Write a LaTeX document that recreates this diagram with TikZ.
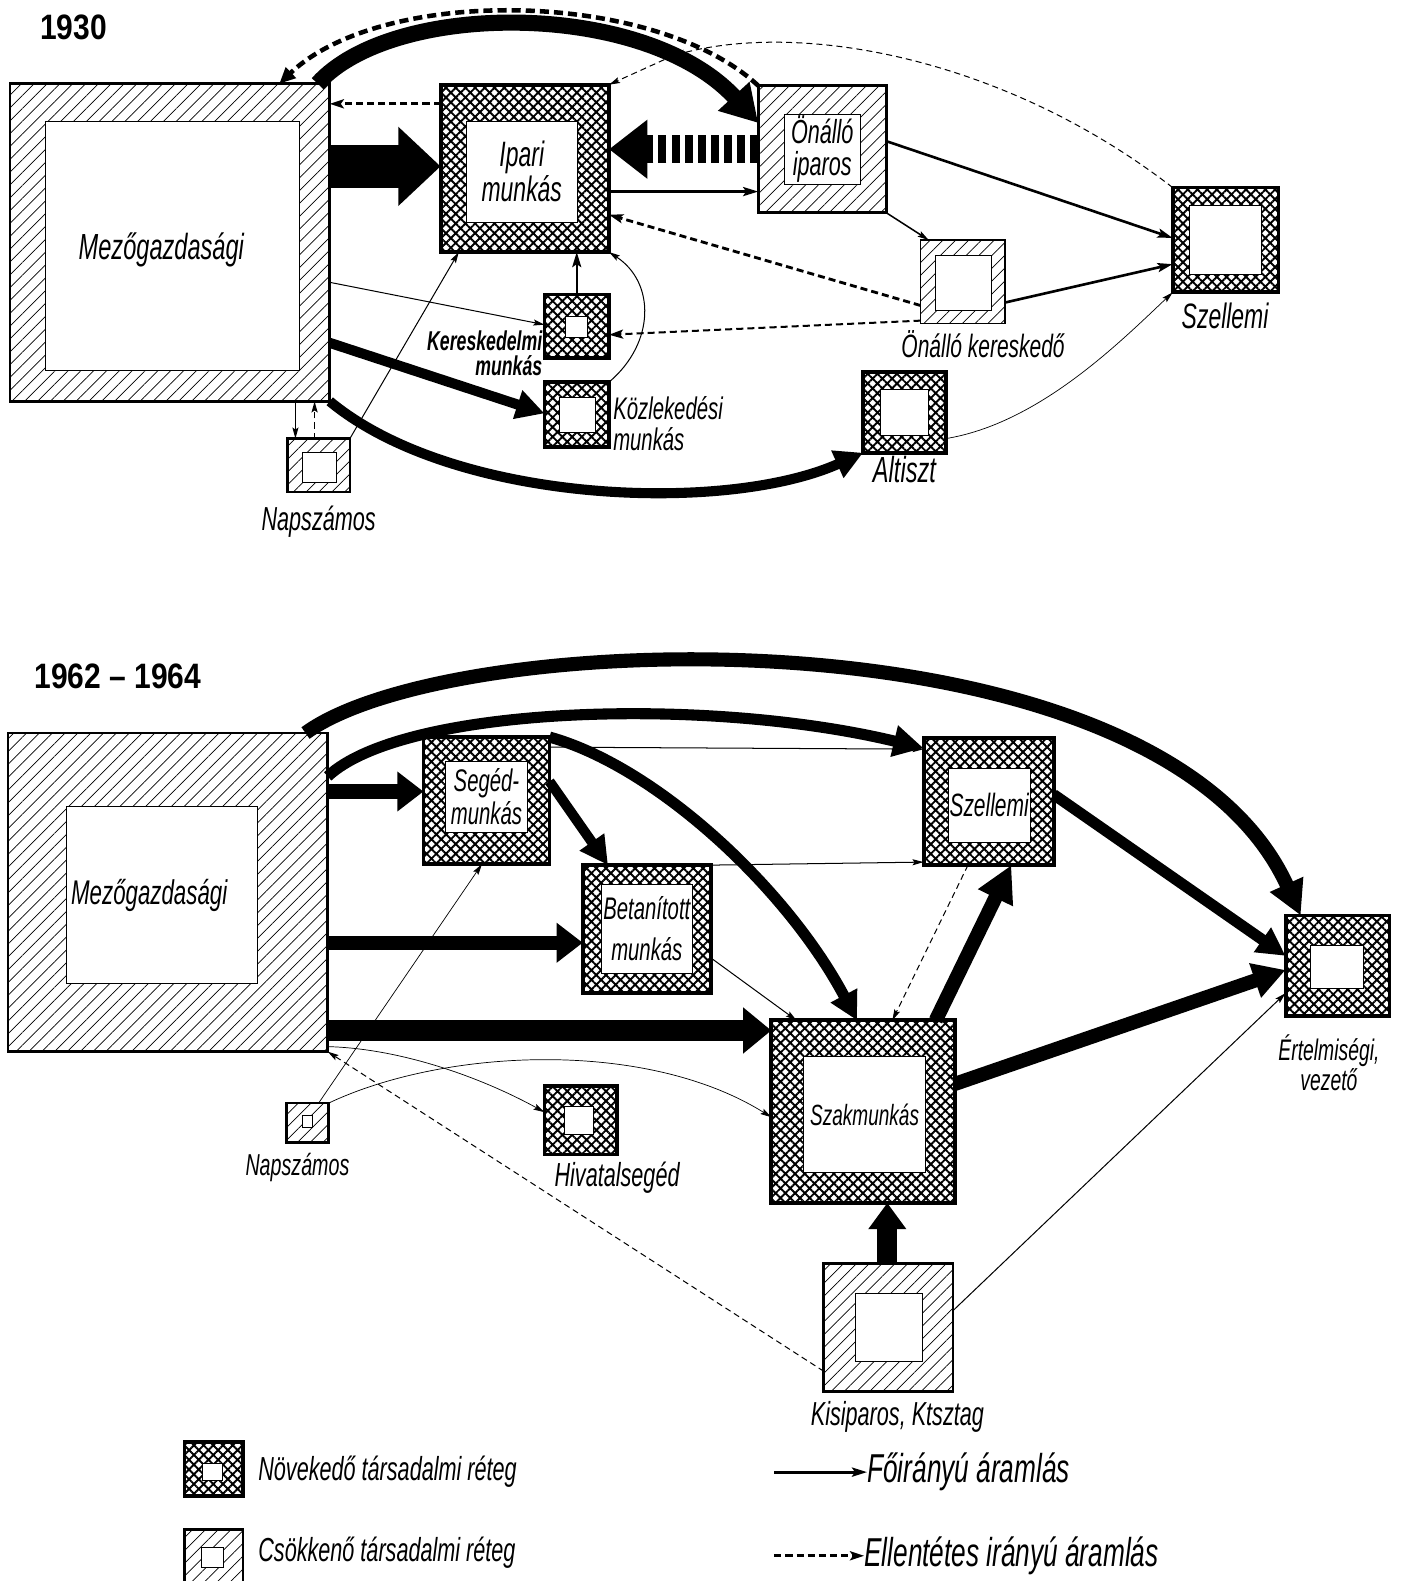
\documentclass[tikz,border=0pt]{standalone}
\usepackage{fontspec}
\newfontfamily\labfont[FakeStretch=0.65]{Liberation Sans}
\newfontfamily\yearfont[FakeStretch=0.85]{Liberation Sans}
\usetikzlibrary{arrows.meta,patterns.meta,calc}
\newcommand\lf[2]{\labfont\itshape\fontsize{#1}{#2}\selectfont}
\newcommand\obox[6]{\node[#1, minimum width={(#5-#3)*1pt}, minimum height={(#6-#4)*1pt}] (#2) at ({(#3+#5)/2},{(#4+#6)/2}) {};}
\newcommand\ibox[7][]{\node[inbox,#1, minimum width={(#5-#3)*1pt}, minimum height={(#6-#4)*1pt}] (#2) at ({(#3+#5)/2},{(#4+#6)/2}) {#7};}
\tikzset{
 growbox/.style={draw, line width=3.8pt, pattern={Hatch[angle=45,distance=6.8pt,line width=1.9pt]}, inner sep=0pt, outer sep=0pt},
 shrinkbox/.style={draw, line width=2.6pt, pattern={Lines[angle=45,distance=9pt,line width=0.7pt]}, inner sep=0pt, outer sep=0pt},
 shrinklight/.style={shrinkbox, line width=1.6pt},
 inbox/.style={draw, line width=0.6pt, fill=white, inner sep=0pt, outer sep=0pt, align=center, font=\lf{33}{32}},
 lbl/.style={inner sep=0pt, align=center, font=\lf{33}{32}},
 yearlbl/.style={inner sep=0pt, font=\yearfont\bfseries\fontsize{35}{38}\selectfont},
 tarr/.style={line width=1pt, -{Stealth[length=11pt,width=6pt,inset=2pt]}},
 marr/.style={line width=2.6pt, -{Stealth[length=15pt,width=9pt,inset=3pt]}},
 tdarr/.style={line width=1pt, dash pattern=on 6pt off 4pt, -{Stealth[length=11pt,width=6pt,inset=2pt]}},
 mdarr/.style={line width=2.8pt, dash pattern=on 7pt off 4pt, -{Stealth[length=14pt,width=9pt,inset=3pt]}},
 karr/.style={line width=#1, -{Triangle[length=28pt,width=28pt]}},
 karr/.default=10pt
}
\begin{document}
\begin{tikzpicture}[x=1pt,y={(0,-1pt)}]
\fill[white] (0,0) rectangle (1404,1568);
\useasboundingbox (0,0) rectangle (1404,1568);

% ---------------- 1930 ----------------
\node[yearlbl] (y1930) at (73,27) {1930};
\obox{shrinkbox}{mezoA}{10}{83}{327}{398}
\ibox{mezoAi}{45}{120}{297}{367}{}
\node[lbl, font=\lf{36}{36}] (mezoAt) at (160,248) {Mezőgazdasági};
\obox{growbox}{ipariA}{437}{84}{604}{250}
\ibox[font=\lf{35}{31}]{ipariAi}{462}{120}{573}{220}{Ipari\\munkás}
\obox{shrinkbox}{onipA}{752}{85}{879}{211}
\ibox[font=\lf{33}{32}]{onipAi}{778}{113}{853}{183}{Önálló\\iparos}
\obox{growbox}{szelA}{1163}{186}{1268}{290}
\ibox{szelAi}{1180}{204}{1251}{272}{}
\node[lbl, font=\lf{35}{36}] (szelAl) at (1215,313) {Szellemi};
\obox{shrinklight}{onkerA}{913}{238}{997}{321}
\ibox{onkerAi}{928}{253}{983}{308}{}
\node[lbl, font=\lf{32}{32}] (onkerAl) at (975,341) {Önálló kereskedő};
\obox{growbox}{kerA}{540}{292}{604}{355}
\ibox{kerAi}{561}{314}{582}{335}{}
\node[lbl, align=right, anchor=east, font=\labfont\bfseries\itshape\fontsize{27}{25}\selectfont] (kerAl) at (538,350) {Kereskedelmi\\munkás};
\obox{growbox}{kozA}{540}{379}{604}{443}
\ibox{kozAi}{555}{394}{590}{429}{}
\node[lbl, align=left, anchor=west, font=\lf{31}{31}] (kozAl) at (608,420) {Közlekedési\\munkás};
\obox{growbox}{altA}{856}{369}{938}{449}
\ibox{altAi}{873}{386}{921}{432}{}
\node[lbl, font=\lf{36}{36}] (altAl) at (897,466) {Altiszt};
\obox{shrinkbox}{napA}{285}{435}{347}{488}
\ibox{napAi}{300}{449}{334}{478}{}
\node[lbl] (napAl) at (316,517) {Napszámos};

% connectors 1930
\draw[line width=42pt, -{Triangle[length=42pt,width=76pt]}] (mezoA.east |- 0,165) -- (ipariA.west |- 0,165);
\draw[mdarr] (ipariA.west |- 0,103) -- (mezoA.east |- 0,103);
\draw[line width=28pt, dash pattern=on 8pt off 5pt, -{Triangle[length=38pt,width=56pt]}] (onipA.west |- 0,148) -- (ipariA.east |- 0,148);
\draw[marr] (ipariA.east |- 0,190) -- (onipA.west |- 0,190);
\draw[line width=16pt, -{Triangle[length=36pt,width=40pt]}] ($(mezoA.north east)+(-12,0)$) .. controls (390,0) and (640,0) .. (onipA.west |- 0,122);
\draw[line width=4.5pt, dash pattern=on 9pt off 5pt, -{Triangle[length=16pt,width=14pt]}] (onipA.north west) .. controls (650,-10) and (380,-15) .. (mezoA.north -| 277,0);
\coordinate (jn) at (668,55);
\draw[tdarr] (szelA.north west) .. controls (1000,60) and (800,20) .. (jn);
\draw[tdarr] (jn) -- (ipariA.north east);
\draw[tarr] (mezoA.east |- 0,280) -- (kerA.west |- 0,322);
\draw[karr] (mezoA.east |- 0,340) -- (kozA.west |- 0,410);
\draw[karr] (mezoA.south east) .. controls (450,500) and (720,510) .. (altA.south west);
\draw[tarr] (napA.north east) -- (ipariA.south -| 455,0);
\draw[tarr] (mezoA.south -| 293,0) -- (napA.north -| 293,0);
\draw[tdarr, line width=1.6pt] (napA.north -| 312,0) -- (mezoA.south -| 312,0);
\draw[marr, line width=2pt] (kerA.north) -- (ipariA.south -| kerA.north);
\draw[tarr] (kozA.north east) .. controls (650,340) and (650,280) .. (ipariA.south east);
\draw[mdarr] (onkerA.west |- 0,303) -- (ipariA.east |- 0,213);
\draw[mdarr, line width=2pt] (onkerA.west |- 0,318) -- (kerA.east |- 0,332);
\draw[marr] (onipA.east |- 0,140) -- (szelA.west |- 0,236);
\draw[tarr, line width=1.5pt] (onipA.south east) -- ($(onkerA.north west)+(8,0)$);
\draw[marr] (onkerA.east |- 0,300) -- (szelA.west |- 0,262);
\draw[tarr, line width=0.7pt] (altA.east |- 0,435) .. controls (1030,420) and (1110,340) .. (szelA.south west);

% ---------------- 1962-1964 ----------------
\node[yearlbl] (y1962) at (117,671) {1962 – 1964};
\obox{shrinkbox}{mezoB}{8}{727}{325}{1043}
\ibox{mezoBi}{66}{800}{255}{975}{}
\node[lbl, font=\lf{34}{34}] (mezoBt) at (148,888) {Mezőgazdasági};
\obox{growbox}{segB}{420}{731}{545}{857}
\ibox[font=\lf{31}{33}]{segBi}{442}{755}{523}{825}{Segéd-\\munkás}
\obox{growbox}{betB}{578}{858}{705}{985}
\ibox[font=\lf{31}{40}]{betBi}{596}{877}{687}{965}{Betanított\\munkás}
\obox{growbox}{szelB}{916}{732}{1045}{858}
\ibox[font=\lf{32}{32}]{szelBi}{940}{762}{1022}{835}{Szellemi}
\obox{growbox}{szakB}{765}{1012}{947}{1193}
\ibox[font=\lf{29}{30}]{szakBi}{797}{1048}{918}{1163}{Szakmunkás}
\obox{growbox}{ertB}{1275}{908}{1378}{1008}
\ibox{ertBi}{1300}{938}{1352}{980}{}
\node[lbl, font=\lf{29.5}{26}] (ertBl) at (1318,1054) {Értelmiségi,\\vezető};
\obox{shrinkbox}{napB}{284}{1094}{326}{1133}
\ibox{napBi}{300}{1106}{310}{1118}{}
\node[lbl, font=\lf{30}{30}] (napBl) at (295,1158) {Napszámos};
\obox{growbox}{hivB}{540}{1077}{612}{1145}
\ibox{hivBi}{560}{1097}{588}{1125}{}
\node[lbl] (hivBl) at (612,1168) {Hivatalsegéd};
\obox{shrinkbox}{kisB}{817}{1253}{945}{1380}
\ibox{kisBi}{848}{1283}{915}{1350}{}
\node[lbl] (kisBl) at (890,1405) {Kisiparos, Ktsztag};

% connectors 1962
\draw[line width=14pt, -{Triangle[length=34pt,width=34pt]}] ($(mezoB.north east)+(-22,0)$) .. controls (450,620) and (1150,600) .. (ertB.north -| 1290,0);
\draw[line width=11pt, -{Triangle[length=30pt,width=30pt]}] (mezoB.east |- 0,770) .. controls (400,700) and (700,690) .. (szelB.west |- 0,742);
\draw[line width=14pt, -{Triangle[length=26pt,width=38pt]}] (mezoB.east |- 0,785) -- (segB.west |- 0,785);
\draw[line width=14pt, -{Triangle[length=26pt,width=38pt]}] (mezoB.east |- 0,935) -- (betB.west |- 0,935);
\draw[line width=20pt, -{Triangle[length=28pt,width=44pt]}] (mezoB.east |- 0,1022) -- (szakB.west |- 0,1022);
\draw[tarr] (segB.east |- 0,741) -- (szelB.west |- 0,743);
\draw[karr] (segB.east |- 0,775) -- (betB.north -| 603,0);
\draw[karr=11pt] (segB.north east) .. controls (650,760) and (780,880) .. (szakB.north -| 850,0);
\draw[tarr] (betB.north east) -- (szelB.west |- 0,855);
\draw[tarr] (betB.east |- 0,950) -- (szakB.north -| 790,0);
\draw[line width=14pt, -{Triangle[length=36pt,width=36pt]}] (szakB.north -| 928,0) -- (szelB.south -| 1003,0);
\draw[tdarr] (szelB.south -| 960,0) -- (szakB.north -| 885,0);
\draw[karr=11pt] (szelB.east |- 0,788) -- (ertB.west |- 0,948);
\draw[line width=14pt, -{Triangle[length=32pt,width=34pt]}] (szakB.east |- 0,1075) -- (ertB.west |- 0,962);
\draw[tarr] (kisB.east |- 0,1300) -- (ertB.west |- 0,985);
\draw[line width=20pt, -{Triangle[length=26pt,width=36pt]}] (kisB.north -| 880,0) -- (szakB.south -| 880,0);
\draw[tdarr] (kisB.west |- 0,1360) -- (mezoB.south east);
\draw[tarr, line width=0.7pt] ($(mezoB.south east)+(0,-5)$) .. controls (400,1040) and (480,1070) .. (hivB.west |- 0,1103);
\draw[tarr, line width=0.7pt] (napB.north east) .. controls (440,1040) and (640,1030) .. (szakB.west |- 0,1108);
\draw[tarr, line width=0.7pt] (napB.north -| 316,0) -- (segB.south -| 478,0);

% ---------------- legend ----------------
\obox{growbox}{legA}{183}{1430}{241}{1484}
\ibox{legAi}{201}{1451}{220}{1468}{}
\node[lbl, anchor=west] (legAt) at (256,1460) {Növekedő társadalmi réteg};
\obox{shrinkbox}{legB}{183}{1517}{241}{1585}
\ibox{legBi}{200}{1535}{221}{1554}{}
\node[lbl, anchor=west] (legBt) at (256,1540) {Csökkenő társadalmi réteg};
\coordinate (legC1) at (768,1460);
\node[lbl, anchor=west, font=\lf{40}{40}] (legCt) at (860,1460) {Főirányú áramlás};
\draw[marr, line width=3.2pt] (legC1) -- (legCt.west);
\coordinate (legD1) at (768,1543);
\node[lbl, anchor=west, font=\lf{40}{40}] (legDt) at (857,1543) {Ellentétes irányú áramlás};
\draw[mdarr, line width=3.2pt] (legD1) -- (legDt.west);
\end{tikzpicture}
\end{document}
